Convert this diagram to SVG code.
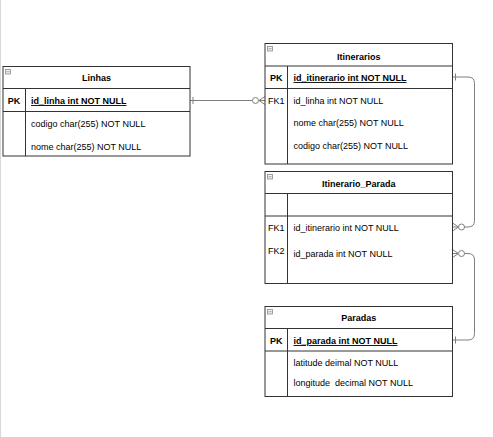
<svg xmlns="http://www.w3.org/2000/svg" width="493" height="437" viewBox="0 0 493 437">
<style>
.box{fill:#ffffff;stroke:#333333;stroke-width:1}
.ln{stroke:#333333;stroke-width:1;fill:none}
.t{font-family:"Liberation Sans",Arial,sans-serif;font-size:9px;fill:#000000;white-space:pre}
.b{font-weight:bold}
.c{text-anchor:middle}
.u{text-decoration:underline}
.ic{fill:#f2f2f2;stroke:#8a8a8a;stroke-width:0.8}
.con{stroke:#7f7f7f;stroke-width:1;fill:none}
.cir{stroke:#7f7f7f;stroke-width:1;fill:#ffffff}
</style>
<rect x="0" y="0" width="493" height="437" fill="#ffffff"/>
<line x1="0.5" y1="0" x2="0.5" y2="437" stroke="#d9d9d9" stroke-width="1"/>

<g id="connectors">
  <line class="con" x1="190" y1="100.5" x2="265" y2="100.5"/>
  <line class="con" x1="193" y1="97" x2="193" y2="104"/>
  <path class="con" d="M259,100.5 L265,96.5 M259,100.5 L265,104.5"/>
  <circle class="cir" cx="255.5" cy="100.5" r="3"/>
  <path class="con" d="M452.5,77 H468 Q474.5,77 474.5,83.5 V220.5 Q474.5,227 468,227 H452.5"/>
  <line class="con" x1="455.5" y1="73.5" x2="455.5" y2="80.5"/>
  <path class="con" d="M458.5,227 L452.5,223 M458.5,227 L452.5,231"/>
  <circle class="cir" cx="461.5" cy="227" r="3"/>
  <path class="con" d="M452.5,340 H468 Q474.5,340 474.5,333.5 V260 Q474.5,253.5 468,253.5 H452.5"/>
  <line class="con" x1="455.5" y1="336.5" x2="455.5" y2="343.5"/>
  <path class="con" d="M458.5,253.5 L452.5,249.5 M458.5,253.5 L452.5,257.5"/>
  <circle class="cir" cx="461.5" cy="253.5" r="3"/>
</g>

<g id="Linhas">
  <rect class="box" x="3" y="66.5" width="187" height="89.5"/>
  <line class="ln" x1="3" y1="88.5" x2="190" y2="88.5"/>
  <line class="ln" x1="3" y1="111.5" x2="190" y2="111.5"/>
  <line class="ln" x1="25.5" y1="88.5" x2="25.5" y2="156"/>
  <rect class="ic" x="5.5" y="69.5" width="5" height="4.5"/>
  <line x1="6.5" y1="71.75" x2="9.5" y2="71.75" stroke="#8a8a8a" stroke-width="0.8"/>
  <text class="t b c" x="96.5" y="81">Linhas</text>
  <text class="t b c" x="14" y="104">PK</text>
  <text class="t b u" x="31" y="104">id_linha int NOT NULL</text>
  <text class="t" x="31" y="126.5">codigo char(255) NOT NULL</text>
  <text class="t" x="31" y="149.5">nome char(255) NOT NULL</text>
</g>

<g id="Itinerarios">
  <rect class="box" x="265" y="43.5" width="187.5" height="120.5"/>
  <line class="ln" x1="265" y1="66" x2="452.5" y2="66"/>
  <line class="ln" x1="265" y1="88.5" x2="452.5" y2="88.5"/>
  <line class="ln" x1="287.5" y1="66" x2="287.5" y2="164"/>
  <rect class="ic" x="267.5" y="46.5" width="5" height="4.5"/>
  <line x1="268.5" y1="48.75" x2="271.5" y2="48.75" stroke="#8a8a8a" stroke-width="0.8"/>
  <text class="t b c" x="358.8" y="59.5">Itinerarios</text>
  <text class="t b c" x="276.3" y="81">PK</text>
  <text class="t b u" x="293.5" y="81">id_itinerario int NOT NULL</text>
  <text class="t c" x="276.3" y="104">FK1</text>
  <text class="t" x="293.5" y="104">id_linha int NOT NULL</text>
  <text class="t" x="293.5" y="126">nome char(255) NOT NULL</text>
  <text class="t" x="293.5" y="149">codigo char(255) NOT NULL</text>
</g>

<g id="Itinerario_Parada">
  <rect class="box" x="265" y="171.5" width="187.5" height="112"/>
  <line class="ln" x1="265" y1="193.5" x2="452.5" y2="193.5"/>
  <line class="ln" x1="265" y1="216" x2="452.5" y2="216"/>
  <line class="ln" x1="287.5" y1="193.5" x2="287.5" y2="283.5"/>
  <rect class="ic" x="267.5" y="174.5" width="5" height="4.5"/>
  <line x1="268.5" y1="176.75" x2="271.5" y2="176.75" stroke="#8a8a8a" stroke-width="0.8"/>
  <text class="t b c" x="358.8" y="186.5">Itinerario_Parada</text>
  <text class="t c" x="276.3" y="231">FK1</text>
  <text class="t" x="293.5" y="231">id_itinerario int NOT NULL</text>
  <text class="t c" x="276.3" y="254">FK2</text>
  <text class="t" x="293.5" y="257">id_parada int NOT NULL</text>
</g>

<g id="Paradas">
  <rect class="box" x="265" y="306.5" width="187.5" height="90"/>
  <line class="ln" x1="265" y1="328.5" x2="452.5" y2="328.5"/>
  <line class="ln" x1="265" y1="351" x2="452.5" y2="351"/>
  <line class="ln" x1="287.5" y1="328.5" x2="287.5" y2="396.5"/>
  <rect class="ic" x="267.5" y="309.5" width="5" height="4.5"/>
  <line x1="268.5" y1="311.75" x2="271.5" y2="311.75" stroke="#8a8a8a" stroke-width="0.8"/>
  <text class="t b c" x="358.8" y="321">Paradas</text>
  <text class="t b c" x="276.3" y="344">PK</text>
  <text class="t b u" x="293.5" y="344">id_parada int NOT NULL</text>
  <text class="t" x="293.5" y="366">latitude deimal NOT NULL</text>
  <text class="t" x="293.5" y="385.5">longitude  decimal NOT NULL</text>
</g>
</svg>
